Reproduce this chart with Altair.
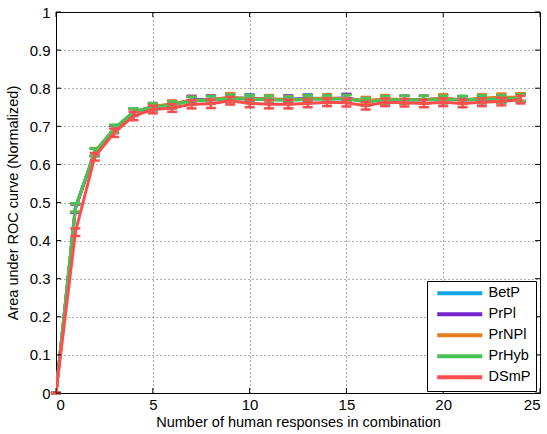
import altair as alt
import pandas as pd

# Number of human responses combined
n_resp = list(range(25))

series_names = ["BetP", "PrPl", "PrNPl", "PrHyb", "DSmP"]
series_colors = ["#12a6e8", "#7424cc", "#e37d1d", "#46c456", "#ff4d4d"]

# Mean normalized AUC per method
betp  = [0, 0.485, 0.632, 0.693, 0.737, 0.752, 0.757, 0.768, 0.770, 0.774, 0.774, 0.771, 0.769,
         0.774, 0.772, 0.773, 0.765, 0.770, 0.770, 0.770, 0.772, 0.769, 0.771, 0.772, 0.776]
prpl  = [0, 0.484, 0.632, 0.692, 0.736, 0.751, 0.757, 0.770, 0.771, 0.773, 0.772, 0.771, 0.771,
         0.772, 0.772, 0.775, 0.765, 0.770, 0.770, 0.770, 0.772, 0.769, 0.771, 0.772, 0.776]
prnpl = [0, 0.486, 0.633, 0.693, 0.737, 0.752, 0.759, 0.768, 0.770, 0.777, 0.772, 0.772, 0.769,
         0.772, 0.774, 0.772, 0.767, 0.772, 0.770, 0.770, 0.774, 0.769, 0.774, 0.776, 0.777]
prhyb = [0, 0.487, 0.632, 0.694, 0.738, 0.751, 0.756, 0.767, 0.769, 0.773, 0.771, 0.770, 0.768,
         0.771, 0.771, 0.772, 0.764, 0.769, 0.770, 0.770, 0.770, 0.770, 0.771, 0.771, 0.774]
dsmp  = [0, 0.422, 0.620, 0.683, 0.727, 0.744, 0.748, 0.758, 0.759, 0.767, 0.760, 0.758, 0.758,
         0.760, 0.763, 0.762, 0.754, 0.763, 0.762, 0.760, 0.763, 0.760, 0.763, 0.765, 0.770]

# Error bar half-widths
betp_err  = [0, 0.011, 0.010, 0.010, 0.009, 0.009, 0.009, 0.010, 0.010, 0.010, 0.010, 0.010, 0.010,
             0.010, 0.010, 0.010, 0.010, 0.010, 0.010, 0.010, 0.010, 0.010, 0.010, 0.010, 0.010]
prpl_err  = [0, 0.011, 0.010, 0.010, 0.009, 0.009, 0.009, 0.010, 0.010, 0.010, 0.010, 0.010, 0.010,
             0.010, 0.010, 0.010, 0.010, 0.010, 0.010, 0.010, 0.010, 0.010, 0.010, 0.010, 0.010]
prnpl_err = [0, 0.011, 0.010, 0.010, 0.009, 0.009, 0.009, 0.010, 0.010, 0.010, 0.010, 0.010, 0.010,
             0.010, 0.010, 0.010, 0.010, 0.010, 0.010, 0.010, 0.010, 0.010, 0.010, 0.010, 0.010]
prhyb_err = [0, 0.011, 0.010, 0.010, 0.009, 0.009, 0.009, 0.010, 0.010, 0.010, 0.010, 0.010, 0.010,
             0.010, 0.010, 0.010, 0.010, 0.010, 0.010, 0.010, 0.010, 0.010, 0.010, 0.010, 0.010]
dsmp_err  = [0, 0.010, 0.010, 0.011, 0.011, 0.010, 0.010, 0.011, 0.011, 0.010, 0.010, 0.011, 0.011,
             0.010, 0.010, 0.010, 0.010, 0.010, 0.010, 0.010, 0.010, 0.010, 0.010, 0.010, 0.010]

x_ticks = [0, 5, 10, 15, 20, 25]
y_ticks = [0, 0.1, 0.2, 0.3, 0.4, 0.5, 0.6, 0.7, 0.8, 0.9, 1.0]

W, H = 484, 381
FONT = "Liberation Sans"

values = [betp, prpl, prnpl, prhyb, dsmp]
errors = [betp_err, prpl_err, prnpl_err, prhyb_err, dsmp_err]

x_scale = alt.Scale(domain=[0, 25], nice=False, zero=False)
y_scale = alt.Scale(domain=[0, 1], nice=False)
color_scale = alt.Scale(domain=series_names, range=series_colors)

x_axis = alt.Axis(values=x_ticks, title="Number of human responses in combination", format="~g")
y_axis = alt.Axis(values=y_ticks, title="Area under ROC curve (Normalized)", format="~g")


def X(field):
    return alt.X(field, scale=x_scale, axis=x_axis)


def Y(field):
    return alt.Y(field, scale=y_scale, axis=y_axis)


layers = []
for name, vals, errs in zip(series_names, values, errors):
    df = pd.DataFrame({
        "n": n_resp,
        "auc": vals,
        "lo": [v - e for v, e in zip(vals, errs)],
        "hi": [v + e for v, e in zip(vals, errs)],
        "method": name,
    })
    color = alt.Color("method:N", scale=color_scale, title=None)
    base = alt.Chart(df)
    line = base.mark_line(strokeWidth=3, clip=True).encode(
        x=X("n:Q"), y=Y("auc:Q"), color=color)
    bar = base.mark_rule(strokeWidth=2.5).encode(
        x=X("n:Q"), y=Y("lo:Q"), y2="hi:Q", color=color)
    cap_lo = base.mark_tick(orient="horizontal", size=10, thickness=2.5, opacity=1).encode(
        x=X("n:Q"), y=Y("lo:Q"), color=color)
    cap_hi = base.mark_tick(orient="horizontal", size=10, thickness=2.5, opacity=1).encode(
        x=X("n:Q"), y=Y("hi:Q"), color=color)
    layers += [line, bar, cap_lo, cap_hi]

# Inward tick marks on all four sides of the box
xt = alt.Chart(pd.DataFrame({"n": x_ticks}))
yt = alt.Chart(pd.DataFrame({"auc": y_ticks}))
tick_style = dict(color="#000000", strokeWidth=1)
layers += [
    xt.mark_rule(**tick_style).encode(x=X("n:Q"), y=alt.value(H), y2=alt.value(H - 5)),
    xt.mark_rule(**tick_style).encode(x=X("n:Q"), y=alt.value(0), y2=alt.value(5)),
    yt.mark_rule(**tick_style).encode(y=Y("auc:Q"), x=alt.value(0), x2=alt.value(5)),
    yt.mark_rule(**tick_style).encode(y=Y("auc:Q"), x=alt.value(W), x2=alt.value(W - 5)),
]

chart = alt.layer(*layers).properties(
    width=W, height=H,
    autosize=alt.AutoSizeParams(type="none"),
    padding={"left": 56, "top": 12, "right": 7, "bottom": 41},
).configure_view(
    stroke="#000000", strokeWidth=1
).configure_axis(
    labelFont=FONT, titleFont=FONT, labelFontSize=15, titleFontSize=14.5,
    labelColor="#000000", titleColor="#000000", titleFontWeight="normal",
    domainColor="#000000", tickSize=0, grid=True,
    gridColor="#333333", gridDash=[1, 3], gridOpacity=0.8,
).configure_axisX(
    labelPadding=4, titlePadding=3,
).configure_axisY(
    labelPadding=6, titlePadding=9,
).configure_legend(
    orient="none", legendX=371, legendY=269,
    strokeColor="#000000", fillColor="#ffffff", padding=5,
    symbolType="M-0.4,0H8.6", symbolSize=100, symbolStrokeWidth=4,
    labelOffset=42, rowPadding=4,
    labelFont=FONT, labelFontSize=14.5, labelColor="#000000",
)

chart.save("out.html", embed_options={"renderer": "svg", "actions": False})
